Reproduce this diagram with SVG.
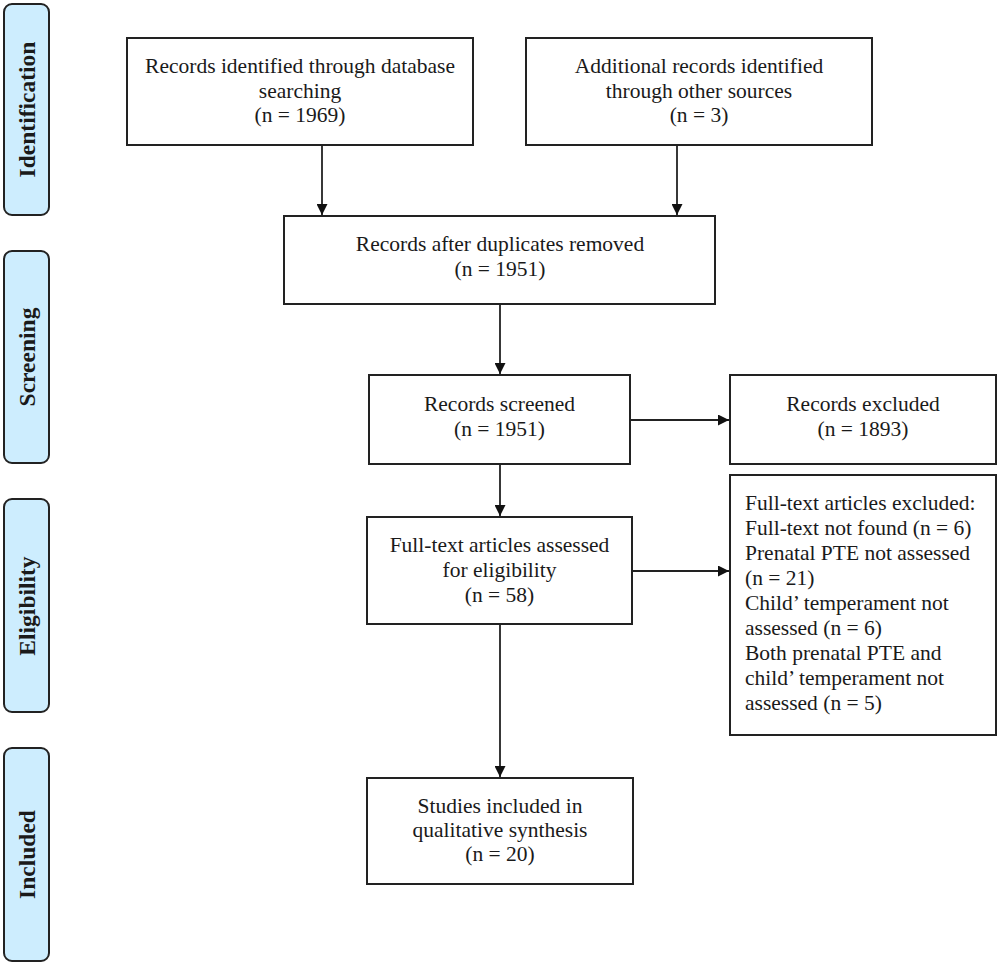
<svg xmlns="http://www.w3.org/2000/svg" width="1000" height="965" viewBox="0 0 1000 965">
<style>
.box{fill:#fff;stroke:#222;stroke-width:2}
.phase{fill:#cdedfe;stroke:#222;stroke-width:2}
.t{font-family:"Liberation Serif","Times New Roman",serif;font-size:21.5px;fill:#1a1a1a}
.c{text-anchor:middle}
.p{font-family:"Liberation Serif","Times New Roman",serif;font-size:23.5px;font-weight:bold;fill:#1a1a1a;text-anchor:middle}
.ln{stroke:#222;stroke-width:1.8;fill:none;marker-end:url(#ah)}
</style>
<defs>
<marker id="ah" markerUnits="userSpaceOnUse" markerWidth="11" markerHeight="11" refX="11" refY="5.5" orient="auto">
<path d="M0,0 L11,5.5 L0,11 z" fill="#111"/>
</marker>
</defs>
<g id="phase-identification">
<rect class="phase" x="4" y="4" width="45" height="211" rx="8"/>
<text class="p" transform="translate(35,109.5) rotate(-90)">Identification</text>
</g>
<g id="phase-screening">
<rect class="phase" x="4" y="251" width="45" height="212" rx="8"/>
<text class="p" transform="translate(35,357) rotate(-90)">Screening</text>
</g>
<g id="phase-eligibility">
<rect class="phase" x="4" y="499" width="45" height="213" rx="8"/>
<text class="p" transform="translate(35,606) rotate(-90)">Eligibility</text>
</g>
<g id="phase-included">
<rect class="phase" x="4" y="748" width="45" height="213" rx="8"/>
<text class="p" transform="translate(35,854.5) rotate(-90)">Included</text>
</g>
<g id="n-database">
<rect class="box" x="127" y="38" width="346" height="107"/>
<text class="t c" x="300" y="73">Records identified through database</text>
<text class="t c" x="300" y="98">searching</text>
<text class="t c" x="300" y="122">(n = 1969)</text>
</g>
<g id="n-other">
<rect class="box" x="526" y="38" width="346" height="107"/>
<text class="t c" x="699" y="73">Additional records identified</text>
<text class="t c" x="699" y="98">through other sources</text>
<text class="t c" x="699" y="122">(n = 3)</text>
</g>
<g id="n-dedup">
<rect class="box" x="284" y="216" width="431" height="88"/>
<text class="t c" x="500" y="251">Records after duplicates removed</text>
<text class="t c" x="500" y="276">(n = 1951)</text>
</g>
<g id="n-screened">
<rect class="box" x="369" y="375" width="261" height="89"/>
<text class="t c" x="499.5" y="411">Records screened</text>
<text class="t c" x="499.5" y="436">(n = 1951)</text>
</g>
<g id="n-excluded">
<rect class="box" x="730" y="375" width="266" height="89"/>
<text class="t c" x="863" y="411">Records excluded</text>
<text class="t c" x="863" y="436">(n = 1893)</text>
</g>
<g id="n-fulltext">
<rect class="box" x="367" y="517" width="265" height="107"/>
<text class="t c" x="499.5" y="552">Full-text articles assessed</text>
<text class="t c" x="499.5" y="577">for eligibility</text>
<text class="t c" x="499.5" y="602">(n = 58)</text>
</g>
<g id="n-ftexcluded">
<rect class="box" x="730" y="475" width="266" height="260"/>
<text class="t" x="745" y="510">Full-text articles excluded:</text>
<text class="t" x="745" y="535">Full-text not found (n = 6)</text>
<text class="t" x="745" y="560">Prenatal PTE not assessed</text>
<text class="t" x="745" y="585">(n = 21)</text>
<text class="t" x="745" y="610">Child’ temperament not</text>
<text class="t" x="745" y="635">assessed (n = 6)</text>
<text class="t" x="745" y="660">Both prenatal PTE and</text>
<text class="t" x="745" y="685">child’ temperament not</text>
<text class="t" x="745" y="710">assessed (n = 5)</text>
</g>
<g id="n-included">
<rect class="box" x="367" y="778" width="266" height="106"/>
<text class="t c" x="500" y="813">Studies included in</text>
<text class="t c" x="500" y="837">qualitative synthesis</text>
<text class="t c" x="500" y="861">(n = 20)</text>
</g>
<g id="connectors">
<line class="ln" x1="322" y1="145" x2="322" y2="215"/>
<line class="ln" x1="677" y1="145" x2="677" y2="215"/>
<line class="ln" x1="500" y1="304" x2="500" y2="374"/>
<line class="ln" x1="500" y1="464" x2="500" y2="516"/>
<line class="ln" x1="630" y1="420" x2="729" y2="420"/>
<line class="ln" x1="632" y1="571" x2="729" y2="571"/>
<line class="ln" x1="500" y1="624" x2="500" y2="777"/>
</g>
</svg>
